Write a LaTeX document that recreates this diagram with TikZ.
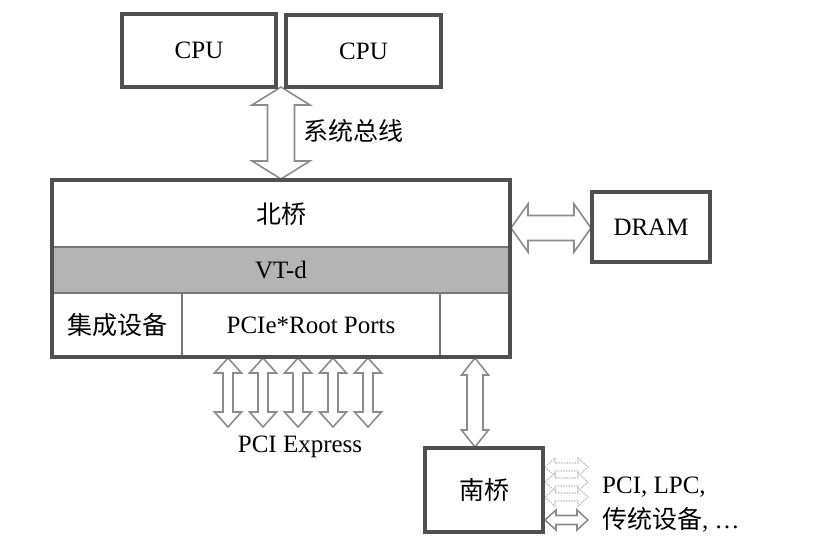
\documentclass[tikz,border=0pt]{standalone}
\usepackage{fontspec}
\setmainfont{Liberation Serif}
\newfontfamily\cjk{Noto Sans CJK SC}
\definecolor{boxgray}{HTML}{505050}
\definecolor{cellgray}{HTML}{777777}
\definecolor{arrgray}{HTML}{8C8C8C}
\definecolor{dotgray}{HTML}{BBBBBB}
\definecolor{vtdfill}{HTML}{B4B4B4}
\newcommand{\blockarrowV}[7]{% style, x, ytop, ybot, head half, shaft half, head len
  \draw[#1] (#2,#3) -- (#2+#5,#3+#7) -- (#2+#6,#3+#7) -- (#2+#6,#4-#7) -- (#2+#5,#4-#7) -- (#2,#4)
    -- (#2-#5,#4-#7) -- (#2-#6,#4-#7) -- (#2-#6,#3+#7) -- (#2-#5,#3+#7) -- cycle;}
\newcommand{\blockarrowH}[7]{% style, y, xleft, xright, head half, shaft half, head len
  \draw[#1] (#3,#2) -- (#3+#7,#2-#5) -- (#3+#7,#2-#6) -- (#4-#7,#2-#6) -- (#4-#7,#2-#5) -- (#4,#2)
    -- (#4-#7,#2+#5) -- (#4-#7,#2+#6) -- (#3+#7,#2+#6) -- (#3+#7,#2+#5) -- cycle;}
\begin{document}
\begin{tikzpicture}[x=1pt,y=-1pt,
  box/.style={draw=boxgray, line width=3.8pt, inner sep=0pt, font=\fontsize{25}{29}\selectfont},
  cell/.style={draw=cellgray, line width=1.8pt},
  arr/.style={draw=arrgray, line width=1.6pt, fill=white, line join=miter},
  dotarr/.style={draw=dotgray, line width=1.2pt, dash pattern=on 1.5pt off 1.2pt, fill=white},
  lbl/.style={inner sep=0pt, font=\fontsize{25}{29}\selectfont},
]
\useasboundingbox (0,0) rectangle (830,556);
\fill[white] (0,0) rectangle (830,556);

% arrows
\blockarrowV{arr}{281}{87}{179}{29}{13.5}{18}
\blockarrowH{arr}{228}{511}{591}{24}{12.5}{17}
\foreach \xx in {228,263,298,333,368}{
  \blockarrowV{arr}{\xx}{358}{427}{13.5}{5}{15}
}
\blockarrowV{arr}{475}{358}{447}{13.5}{8}{17}
\foreach \yy in {467,482,497}{
  \blockarrowH{dotarr}{\yy}{545}{588}{9}{4}{10}
}
\blockarrowH{arr}{520}{545}{588}{10}{4.5}{11}

% CPUs
\node[box, fill=white, minimum width=154pt, minimum height=73pt] (cpu1) at (199,50.5) {CPU};
\node[box, fill=white, minimum width=155pt, minimum height=72pt] (cpu2) at (363.5,51) {CPU};

% north bridge
\node[box, fill=white, minimum width=458pt, minimum height=177pt] (nb) at (281,268.5) {};
\draw[cell, fill=vtdfill] (52,247) rectangle (510,293);
\draw[cell] (182,293) -- (182,357);
\draw[cell] (440,293) -- (440,357);
\draw[draw=boxgray, line width=3.8pt] (52,180) rectangle (510,357);
\node[lbl] (nbl) at (281,214) {\cjk 北桥};
\node[lbl] (vtd) at (281,270) {VT-d};
\node[lbl] (igd) at (117,325) {\cjk 集成设备};
\node[lbl] (rp) at (311,325) {PCIe*Root Ports};

% DRAM and south bridge
\node[box, fill=white, minimum width=118pt, minimum height=70pt] (dram) at (651,227) {DRAM};
\node[box, fill=white, minimum width=118pt, minimum height=84pt] (sb) at (484,490) {\cjk 南桥};

% labels
\node[lbl, anchor=west] (bus) at (303,131) {\cjk 系统总线};
\node[lbl] (pcie) at (300,447) {PCI Express};
\node[lbl, anchor=west] (leg1) at (602,487) {PCI, LPC,};
\node[lbl, anchor=west] (leg2) at (602,520) {{\cjk 传统设备}, …};
\end{tikzpicture}
\end{document}
